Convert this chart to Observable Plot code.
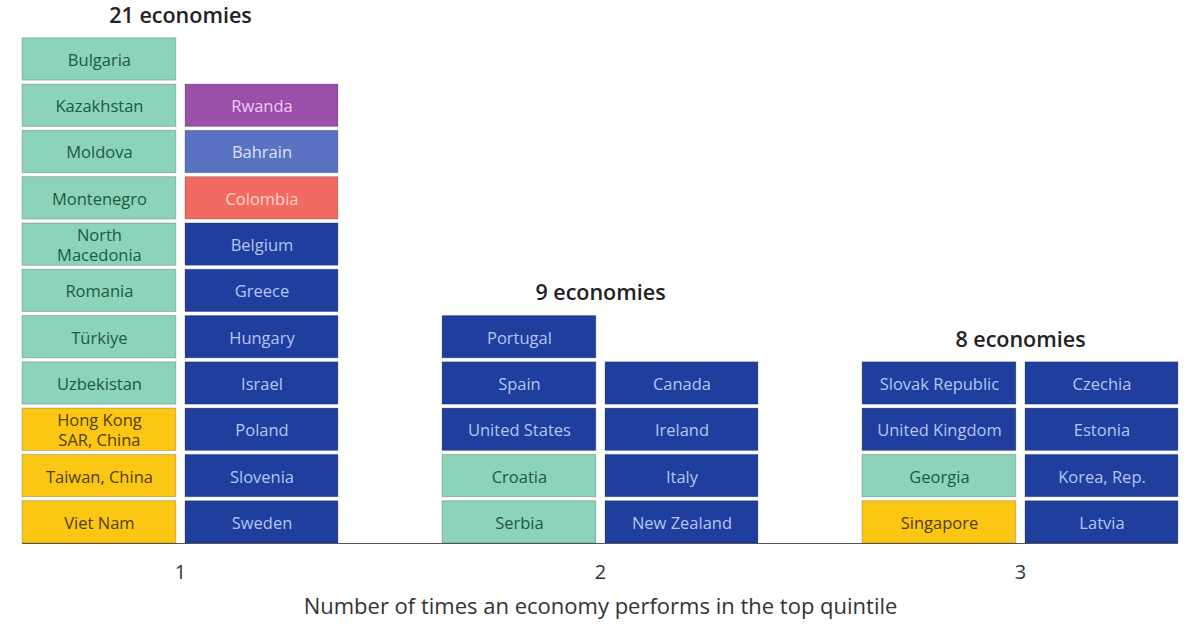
<!DOCTYPE html>
<html>
<head>
<meta charset="utf-8">
<script src="https://cdn.jsdelivr.net/npm/d3@7"></script>
<script src="https://cdn.jsdelivr.net/npm/@observablehq/plot@0.6"></script>
<style>
  html, body { margin: 0; padding: 0; background: #fff; }
  #chart { width: 1200px; height: 630px; }
</style>
</head>
<body>
<div id="chart"></div>
<script>
// ---- Data (each column listed top to bottom) ----
const timesInTopQuintile = [1, 2, 3];
const tickLabels = ["1", "2", "3"];
const groupTitles = ["21 economies", "9 economies", "8 economies"];
const axisTitle = "Number of times an economy performs in the top quintile";

const g1Left = ["Bulgaria", "Kazakhstan", "Moldova", "Montenegro", "North\nMacedonia", "Romania", "Türkiye", "Uzbekistan", "Hong Kong\nSAR, China", "Taiwan, China", "Viet Nam"];
const g1LeftRegion = ["ECA", "ECA", "ECA", "ECA", "ECA", "ECA", "ECA", "ECA", "EAP", "EAP", "EAP"];
const g1Right = ["Rwanda", "Bahrain", "Colombia", "Belgium", "Greece", "Hungary", "Israel", "Poland", "Slovenia", "Sweden"];
const g1RightRegion = ["SSA", "MENA", "LAC", "HI", "HI", "HI", "HI", "HI", "HI", "HI"];

const g2Left = ["Portugal", "Spain", "United States", "Croatia", "Serbia"];
const g2LeftRegion = ["HI", "HI", "HI", "ECA", "ECA"];
const g2Right = ["Canada", "Ireland", "Italy", "New Zealand"];
const g2RightRegion = ["HI", "HI", "HI", "HI"];

const g3Left = ["Slovak Republic", "United Kingdom", "Georgia", "Singapore"];
const g3LeftRegion = ["HI", "HI", "ECA", "EAP"];
const g3Right = ["Czechia", "Estonia", "Korea, Rep.", "Latvia"];
const g3RightRegion = ["HI", "HI", "HI", "HI"];

const regions = ["ECA", "EAP", "HI", "SSA", "MENA", "LAC"];
const fillColors = ["#8bd3ba", "#fcc614", "#1f3e9e", "#9a4fa9", "#5a72c2", "#f26b62"];
const textColors = ["#1c5a43", "#4f4000", "#b4c6f2", "#f1c9f0", "#dbe2f7", "#fdd3ca"];

// ---- Build table ----
const columns = [
  [1, 0, g1Left, g1LeftRegion], [1, 1, g1Right, g1RightRegion],
  [2, 0, g2Left, g2LeftRegion], [2, 1, g2Right, g2RightRegion],
  [3, 0, g3Left, g3LeftRegion], [3, 1, g3Right, g3RightRegion]
];
const boxes = [];
for (const [times, side, names, regs] of columns) {
  names.forEach((name, i) => {
    boxes.push({times, side, name, region: regs[i], row: names.length - 1 - i});
  });
}
const titles = timesInTopQuintile.map((t, i) => ({
  times: t,
  label: groupTitles[i],
  rows: d3.max(boxes.filter(b => b.times === t), b => b.row + 1)
}));

const colW = 0.376;           // half-group width in x units
const fillOf = r => fillColors[regions.indexOf(r)];
const textOf = r => textColors[regions.indexOf(r)];

const chart = Plot.plot({
  width: 1200,
  height: 630,
  marginLeft: 0,
  marginRight: 0,
  marginTop: 0,
  marginBottom: 87,
  style: {fontFamily: "'Open Sans', Lato, sans-serif", background: "#fff"},
  x: {domain: [4 / 7, 24 / 7], axis: null},
  y: {domain: [0, 11.73], axis: null},
  marks: [
    Plot.rect(boxes, {
      x1: d => d.times + (d.side === 0 ? -colW : 0.012),
      x2: d => d.times + (d.side === 0 ? -0.01 : colW),
      y1: d => d.row,
      y2: d => d.row + 1,
      insetTop: 4,
      fill: d => fillOf(d.region),
      stroke: "rgba(0,0,0,0.22)",
      strokeWidth: 1
    }),
    Plot.text(boxes, {
      x: d => d.times + (d.side === 0 ? -colW - 0.01 : colW + 0.012) / 2,
      y: d => d.row + 0.5 - 2 / 46,
      text: "name",
      fill: d => textOf(d.region),
      fontSize: 16.5,
      lineHeight: 1.22
    }),
    Plot.ruleY([0], {x1: 1 - colW, x2: 3 + colW, stroke: "#555", strokeWidth: 1}),
    Plot.text(titles, {
      x: "times",
      y: d => d.rows + 0.4,
      text: "label",
      fill: "#222",
      fontSize: 21.5,
      fontWeight: 600
    }),
    Plot.text(timesInTopQuintile, {
      x: d => d,
      frameAnchor: "bottom",
      dy: 35,
      text: (d, i) => tickLabels[i],
      fill: "#333",
      fontSize: 20
    }),
    Plot.text([axisTitle], {
      frameAnchor: "bottom",
      dy: 70,
      text: d => d,
      fill: "#333",
      fontSize: 22
    })
  ]
});
document.getElementById("chart").appendChild(chart);
</script>
</body>
</html>
